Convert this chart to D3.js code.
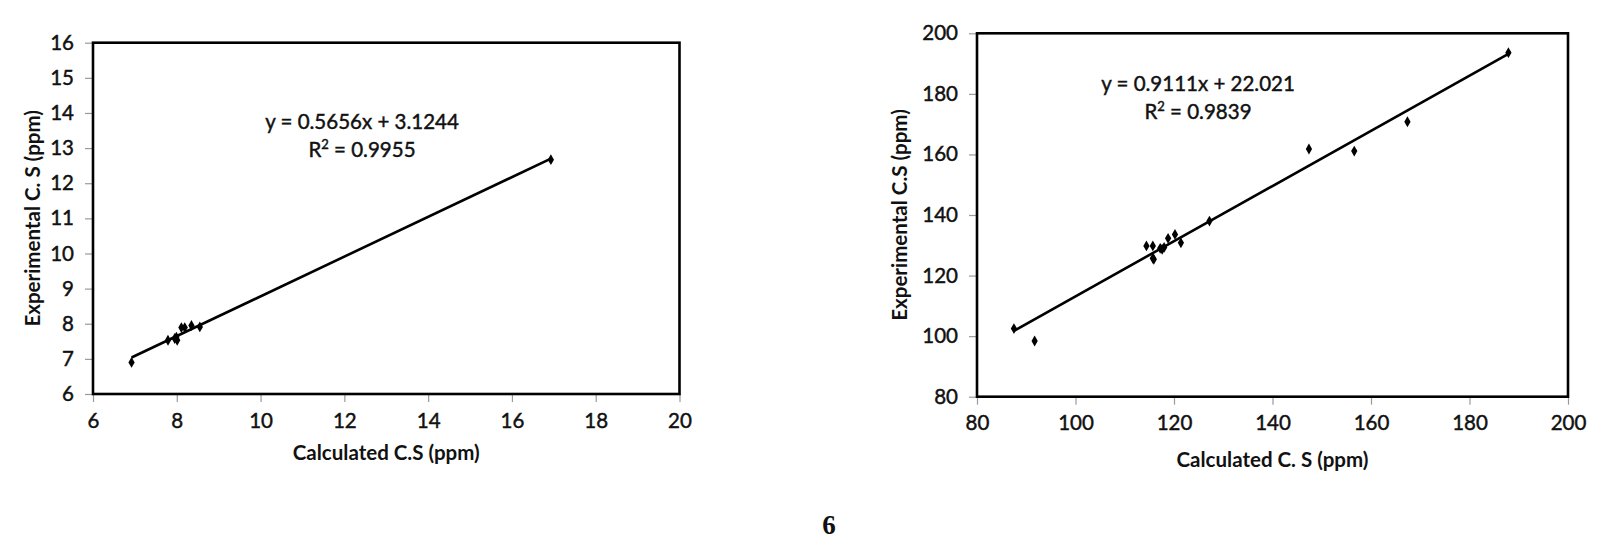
<!DOCTYPE html>
<html><head><meta charset="utf-8">
<script src="https://cdn.jsdelivr.net/npm/d3@7"></script>
<style>
html,body{margin:0;padding:0;background:#fff;}
svg{display:block;}
text{font-family:Lato,"Open Sans",sans-serif;fill:#111;}
</style></head>
<body>
<svg id="c" width="1624" height="554"></svg>
<script>
// Left chart data
const leftX = [6.92, 7.79, 7.95, 8.01, 7.99, 8.11, 8.19, 8.35, 8.55, 16.93];
const leftY = [6.90, 7.53, 7.58, 7.53, 7.62, 7.89, 7.89, 7.95, 7.91, 12.67];
const leftXTicks = [6, 8, 10, 12, 14, 16, 18, 20];
const leftYTicks = [6, 7, 8, 9, 10, 11, 12, 13, 14, 15, 16];
const leftFit = {slope: 0.5656, intercept: 3.1244, r2: "0.9955"};

// Right chart data
const rightX = [87.5, 91.7, 114.4, 115.7, 115.7, 115.9, 117.2, 118.0, 117.6, 118.8, 120.2, 121.4, 127.2, 147.4, 156.6, 167.4, 187.9];
const rightY = [102.5, 98.4, 129.8, 129.8, 125.7, 125.4, 129.0, 129.3, 128.7, 132.3, 133.6, 130.8, 138.0, 161.8, 161.1, 170.8, 193.6];
const rightXTicks = [80, 100, 120, 140, 160, 180, 200];
const rightYTicks = [80, 100, 120, 140, 160, 180, 200];
const rightFit = {slope: 0.9111, intercept: 22.021, r2: "0.9839"};

const svg = d3.select("#c");

function drawChart(cfg) {
  const g = svg.append("g");
  const x = d3.scaleLinear().domain(cfg.xDomain).range([cfg.left, cfg.right]);
  const y = d3.scaleLinear().domain(cfg.yDomain).range([cfg.bottom, cfg.top]);

  const xa = g.append("g").attr("transform", `translate(0,${cfg.bottom})`)
    .call(d3.axisBottom(x).tickValues(cfg.xTicks).tickSize(8).tickPadding(11).tickFormat(d3.format("d")));
  const ya = g.append("g").attr("transform", `translate(${cfg.left},0)`)
    .call(d3.axisLeft(y).tickValues(cfg.yTicks).tickSize(8).tickPadding(11).tickFormat(d3.format("d")));
  [xa, ya].forEach(a => {
    a.select(".domain").remove();
    a.selectAll(".tick line").attr("stroke", "#9a9a9a").attr("stroke-width", 1.2);
    a.selectAll(".tick text").style("font-family", "Lato, sans-serif").style("font-size", "20.5px")
      .attr("fill", "#111").attr("stroke", "#111").attr("stroke-width", 0.45);
  });

  g.append("rect").attr("x", cfg.left).attr("y", cfg.top)
    .attr("width", cfg.right - cfg.left).attr("height", cfg.bottom - cfg.top)
    .attr("fill", "none").attr("stroke", "#000").attr("stroke-width", 2.6);

  const xs = d3.extent(cfg.xs);
  g.append("line")
    .attr("x1", x(xs[0])).attr("y1", y(cfg.fit.slope * xs[0] + cfg.fit.intercept))
    .attr("x2", x(xs[1])).attr("y2", y(cfg.fit.slope * xs[1] + cfg.fit.intercept))
    .attr("stroke", "#000").attr("stroke-width", 2.6);

  const sym = d3.symbol().type(d3.symbolDiamond).size(34);
  g.selectAll("path.pt").data(cfg.xs.map((v, i) => [v, cfg.ys[i]])).enter()
    .append("path").attr("class", "pt")
    .attr("d", sym).attr("transform", d => `translate(${x(d[0])},${y(d[1])})`)
    .attr("fill", "#000");

  const eq = g.append("text").attr("x", cfg.eqX).attr("y", cfg.eqY).attr("text-anchor", "middle")
    .style("font-size", "20.5px").attr("stroke", "#111").attr("stroke-width", 0.45);
  eq.text(cfg.eqText);
  const r = g.append("text").attr("x", cfg.eqX).attr("y", cfg.eqY + 28).attr("text-anchor", "middle")
    .style("font-size", "20.5px").attr("stroke", "#111").attr("stroke-width", 0.45);
  r.append("tspan").text("R");
  r.append("tspan").text("2").attr("dy", -8).style("font-size", "13px");
  r.append("tspan").text(" = " + cfg.fit.r2).attr("dy", 8);

  g.append("text").attr("x", (cfg.left + cfg.right) / 2).attr("y", cfg.xTitleY)
    .attr("text-anchor", "middle").style("font-size", "20.5px").style("font-weight", "bold")
    .text(cfg.xTitle);
  g.append("text").attr("transform", `translate(${cfg.yTitleX},${(cfg.top + cfg.bottom) / 2}) rotate(-90)`)
    .attr("text-anchor", "middle").style("font-size", "20.5px").style("font-weight", "bold")
    .text(cfg.yTitle);
}

drawChart({
  xs: leftX, ys: leftY, xDomain: [6, 20], yDomain: [6, 16],
  xTicks: leftXTicks, yTicks: leftYTicks, fit: leftFit,
  left: 93, right: 679.5, top: 42.7, bottom: 394,
  eqX: 362, eqY: 129, eqText: "y = 0.5656x + 3.1244",
  xTitle: "Calculated C.S (ppm)", xTitleY: 460,
  yTitle: "Experimental C. S (ppm)", yTitleX: 40
});

drawChart({
  xs: rightX, ys: rightY, xDomain: [80, 200], yDomain: [80, 200],
  xTicks: rightXTicks, yTicks: rightYTicks, fit: rightFit,
  left: 977, right: 1568, top: 33.3, bottom: 396.7,
  eqX: 1198, eqY: 91, eqText: "y = 0.9111x + 22.021",
  xTitle: "Calculated C. S (ppm)", xTitleY: 467,
  yTitle: "Experimental C.S (ppm)", yTitleX: 907
});

svg.append("text").attr("x", 829).attr("y", 534).attr("text-anchor", "middle")
  .style("font-family", "'Liberation Serif', serif").style("font-size", "27px").style("font-weight", "bold")
  .text("6");
</script>
</body></html>
